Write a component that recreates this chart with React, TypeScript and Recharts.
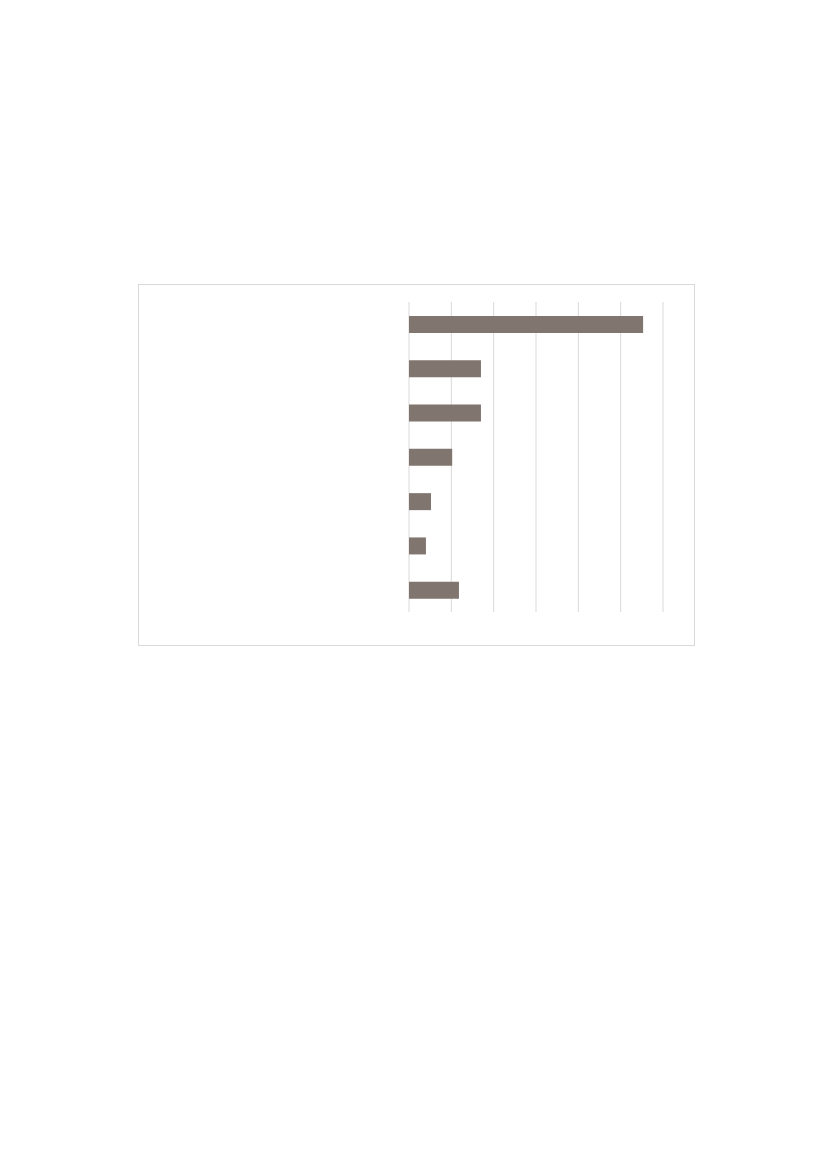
import React from 'react'
import { BarChart, Bar, XAxis, YAxis, CartesianGrid } from 'recharts'

// category labels are not visible in the source, so keys only
const categories = ['A', 'B', 'C', 'D', 'E', 'F', 'G']
const values = [5.53, 1.7, 1.7, 1.02, 0.52, 0.4, 1.18]
const xTicks = [0, 1, 2, 3, 4, 5, 6]

const data = categories.map((name, i) => ({ name, value: values[i] }))

const App: React.FC = () => {
  return (
    <div
      style={{
        position: 'absolute',
        left: 138,
        top: 284,
        width: 557,
        height: 362,
        border: '1px solid #d9d9d9',
        boxSizing: 'border-box',
        background: '#fff',
      }}
    >
      <BarChart
        width={555}
        height={360}
        data={data}
        layout="vertical"
        margin={{ top: 17, right: 31, bottom: 33, left: 0 }}
      >
        <CartesianGrid horizontal={false} stroke="#d9d9d9" strokeWidth={1} />
        <XAxis type="number" domain={[0, 6]} ticks={xTicks} hide />
        <YAxis
          type="category"
          dataKey="name"
          width={270}
          tick={false}
          axisLine={false}
          tickLine={false}
        />
        <Bar dataKey="value" fill="#80756f" barSize={17} isAnimationActive={false} />
      </BarChart>
    </div>
  )
}

export default App
